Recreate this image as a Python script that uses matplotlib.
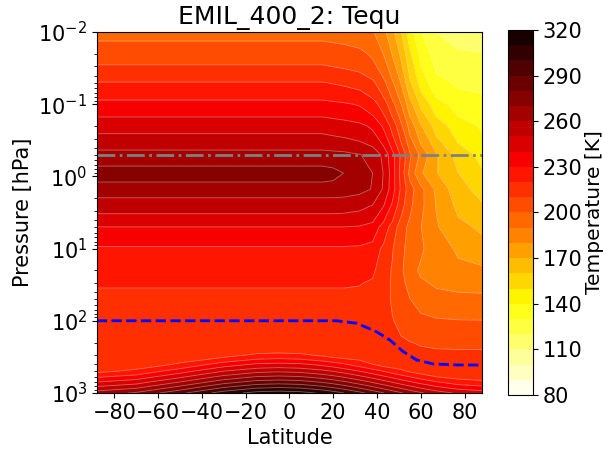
import numpy as np
import matplotlib
matplotlib.use('Agg')
import matplotlib.pyplot as plt

# latitude columns and pressure rows [hPa] of the Tequ table
lat = [-88, -70, -50, -30, -15, -5, 5, 15, 20, 25, 32, 38, 43, 47, 51, 55, 60, 67, 77, 88]
pres = [0.01, 0.02, 0.05, 0.1, 0.2, 0.5, 0.9, 1.5, 2.5, 5, 10, 20, 30, 50, 100,
        200, 250, 300, 400, 500, 600, 700, 800, 900, 1000]

# equilibrium temperature [K], one row per pressure level
tequ = [
    [197, 197, 197, 197, 197, 197, 197, 197, 196.5, 196, 194.5, 191, 183, 172.5, 160.5, 144, 130.5, 120, 116.5, 115],
    [206, 206, 206, 206, 206, 206, 206, 206, 205.1, 204.3, 202.6, 198.3, 189.7, 179.5, 168.3, 152.1, 137.5, 125.5, 121.3, 120.4],
    [220.3, 220.3, 220.3, 220.3, 220.3, 220.3, 220.3, 220.3, 219.4, 218.4, 216.6, 212, 202.7, 191.6, 179.5, 161.9, 146.1, 133.2, 128.5, 127.6],
    [233.2, 233.2, 233.2, 233.2, 233.2, 233.2, 233.2, 233.2, 232.2, 231.2, 229.2, 224.2, 215.2, 203.2, 190.2, 174.2, 158.2, 144.2, 136.2, 133.2],
    [246.8, 246.8, 246.8, 246.8, 246.8, 246.8, 246.8, 246.8, 245.7, 244.6, 242.5, 238.2, 228.5, 216.6, 202.6, 186.4, 171.3, 156.2, 144.3, 138.9],
    [263.9, 263.9, 263.9, 263.9, 263.9, 263.9, 263.9, 263.9, 263.3, 262.7, 260.4, 256.9, 247.5, 233.4, 218.2, 201.8, 187.7, 171.3, 156.1, 146.7],
    [275, 275, 275, 275, 275, 275, 275, 275, 273.5, 269.8, 265.5, 260, 249.5, 235.2, 216.2, 197.2, 181.6, 170.8, 160.3, 151.7],
    [264.9, 264.9, 264.9, 264.9, 264.9, 264.9, 264.9, 264.9, 264.9, 264.4, 262.7, 259.5, 248.6, 234.5, 218.2, 204.1, 193.2, 178, 163.9, 156.3],
    [254.6, 254.6, 254.6, 254.6, 254.6, 254.6, 254.6, 254.6, 254.6, 254.1, 252.7, 249.9, 240.6, 228.4, 214.4, 202.2, 192.8, 179.7, 167.6, 161],
    [240, 240, 240, 240, 240, 240, 240, 240, 240, 240, 239.3, 236.4, 225.6, 216.2, 204.7, 197.5, 190.3, 181, 173, 168],
    [228.5, 228.5, 228.5, 228.5, 228.5, 228.5, 228.5, 228.5, 228.5, 228.5, 228, 225.8, 217.8, 210.8, 202.2, 196.9, 191.5, 184.5, 178.7, 174.9],
    [223.6, 223.6, 223.6, 223.6, 223.6, 223.6, 223.6, 223.6, 223.6, 223.6, 223.2, 221.5, 215.3, 209, 201.6, 194.5, 188.2, 184.1, 182.4, 182],
    [220.7, 220.7, 220.7, 220.7, 220.7, 220.7, 220.7, 220.7, 220.7, 220.7, 220.4, 219, 213.9, 208.8, 202.7, 196.9, 191.8, 188.4, 187, 186.7],
    [218, 218, 218, 218, 218, 218, 218, 218, 218, 218, 217.7, 216.7, 212.9, 209.1, 204.5, 200.2, 196.3, 194.3, 192.8, 192.5],
    [216, 216, 216, 216, 216, 216, 216, 216, 216, 216, 215.8, 215.2, 212.9, 210.5, 207.7, 205, 202.7, 201.1, 200.5, 200.3],
    [215, 215, 215, 215, 215, 215, 215, 215, 215, 215, 214.9, 214.7, 213.7, 212.7, 211.4, 210.3, 209.3, 208.6, 208.4, 208.3],
    [214.8, 214.8, 214.8, 214.8, 214.8, 214.8, 214.8, 214.8, 214.8, 214.8, 214.7, 214.6, 213.8, 213.1, 212.1, 211.3, 210.7, 210.2, 210, 210],
    [214.5, 214.5, 214.5, 216.2, 222.2, 223.5, 222.3, 218.6, 215.9, 214.5, 214.5, 214.4, 213.9, 213.5, 212.9, 212.4, 212, 211.6, 211.5, 211.5],
    [214, 214, 221.2, 234.7, 241.3, 242.7, 241.4, 237.3, 234.4, 230.9, 225.3, 220.1, 215.7, 214, 214, 214, 214, 213.8, 213.6, 213.5],
    [217.4, 222.6, 235.8, 250.2, 257.2, 258.7, 257.3, 253, 249.8, 246.1, 240.2, 234.7, 229.9, 226, 222.3, 218.6, 215.3, 215.4, 215.5, 215.5],
    [229.1, 234.5, 248.4, 263.6, 271, 272.5, 271.1, 266.5, 263.2, 259.3, 253, 247.2, 242.2, 238.1, 234.2, 230.3, 225.8, 220.3, 217, 217],
    [239.4, 245.1, 259.6, 275.4, 283.2, 284.8, 283.3, 278.5, 275.1, 271, 264.4, 258.3, 253.1, 248.9, 244.7, 240.6, 236, 230.3, 224.3, 221.3],
    [248.7, 254.6, 269.7, 286.2, 294.2, 295.9, 294.3, 289.3, 285.8, 281.6, 274.7, 268.4, 263, 258.6, 254.3, 250, 245.2, 239.2, 233, 230],
    [257.2, 263.3, 279, 295.9, 304.3, 306, 304.4, 299.2, 295.6, 291.2, 284.1, 277.6, 272, 267.4, 263, 258.6, 253.5, 247.4, 241, 237.8],
    [265.1, 271.4, 287.5, 305, 313.6, 315.4, 313.7, 308.4, 304.6, 300.1, 292.8, 286.1, 280.3, 275.6, 271, 266.5, 261.3, 255, 248.4, 245.1],
]

# tropopause (blue dashed) and the 0.5 hPa level (grey dash-dot)
trop_lat = [-88, 21.6, 30.7, 39.8, 45.9, 52.0, 58.1, 65.6, 76.3, 88]
trop_p = [100, 100, 108, 142, 185, 268, 349, 396, 409, 410]
p_level = 0.5

levels = np.arange(80, 321, 10)

fig = plt.figure(figsize=(6.03, 4.54), dpi=100)
ax = fig.add_axes([0.161, 0.1344, 0.638, 0.795])
cax = fig.add_axes([0.8425, 0.130, 0.0415, 0.804])

cf = ax.contourf(lat, pres, tequ, levels=levels, cmap='hot_r')
ax.contour(lat, pres, tequ, levels=levels, colors='white', linewidths=0.6, alpha=0.4)
ax.plot(trop_lat, trop_p, color='blue', ls='--', lw=2)
ax.axhline(p_level, color='gray', ls='-.', lw=2)

ax.set_yscale('log')
ax.set_ylim(1000, 0.01)
ax.set_xlim(-87.86, 87.86)
ax.set_xticks(range(-80, 81, 20))
ax.tick_params(labelsize=15)
ax.set_xlabel('Latitude', fontsize=15)
ax.set_ylabel('Pressure [hPa]', fontsize=15)
ax.set_title('EMIL_400_2: Tequ', fontsize=18)

cb = fig.colorbar(cf, cax=cax, ticks=range(80, 321, 30))
cb.ax.tick_params(labelsize=15)
cb.set_label('Temperature [K]', fontsize=14.5, labelpad=2)

fig.savefig('out.png', dpi=100)
